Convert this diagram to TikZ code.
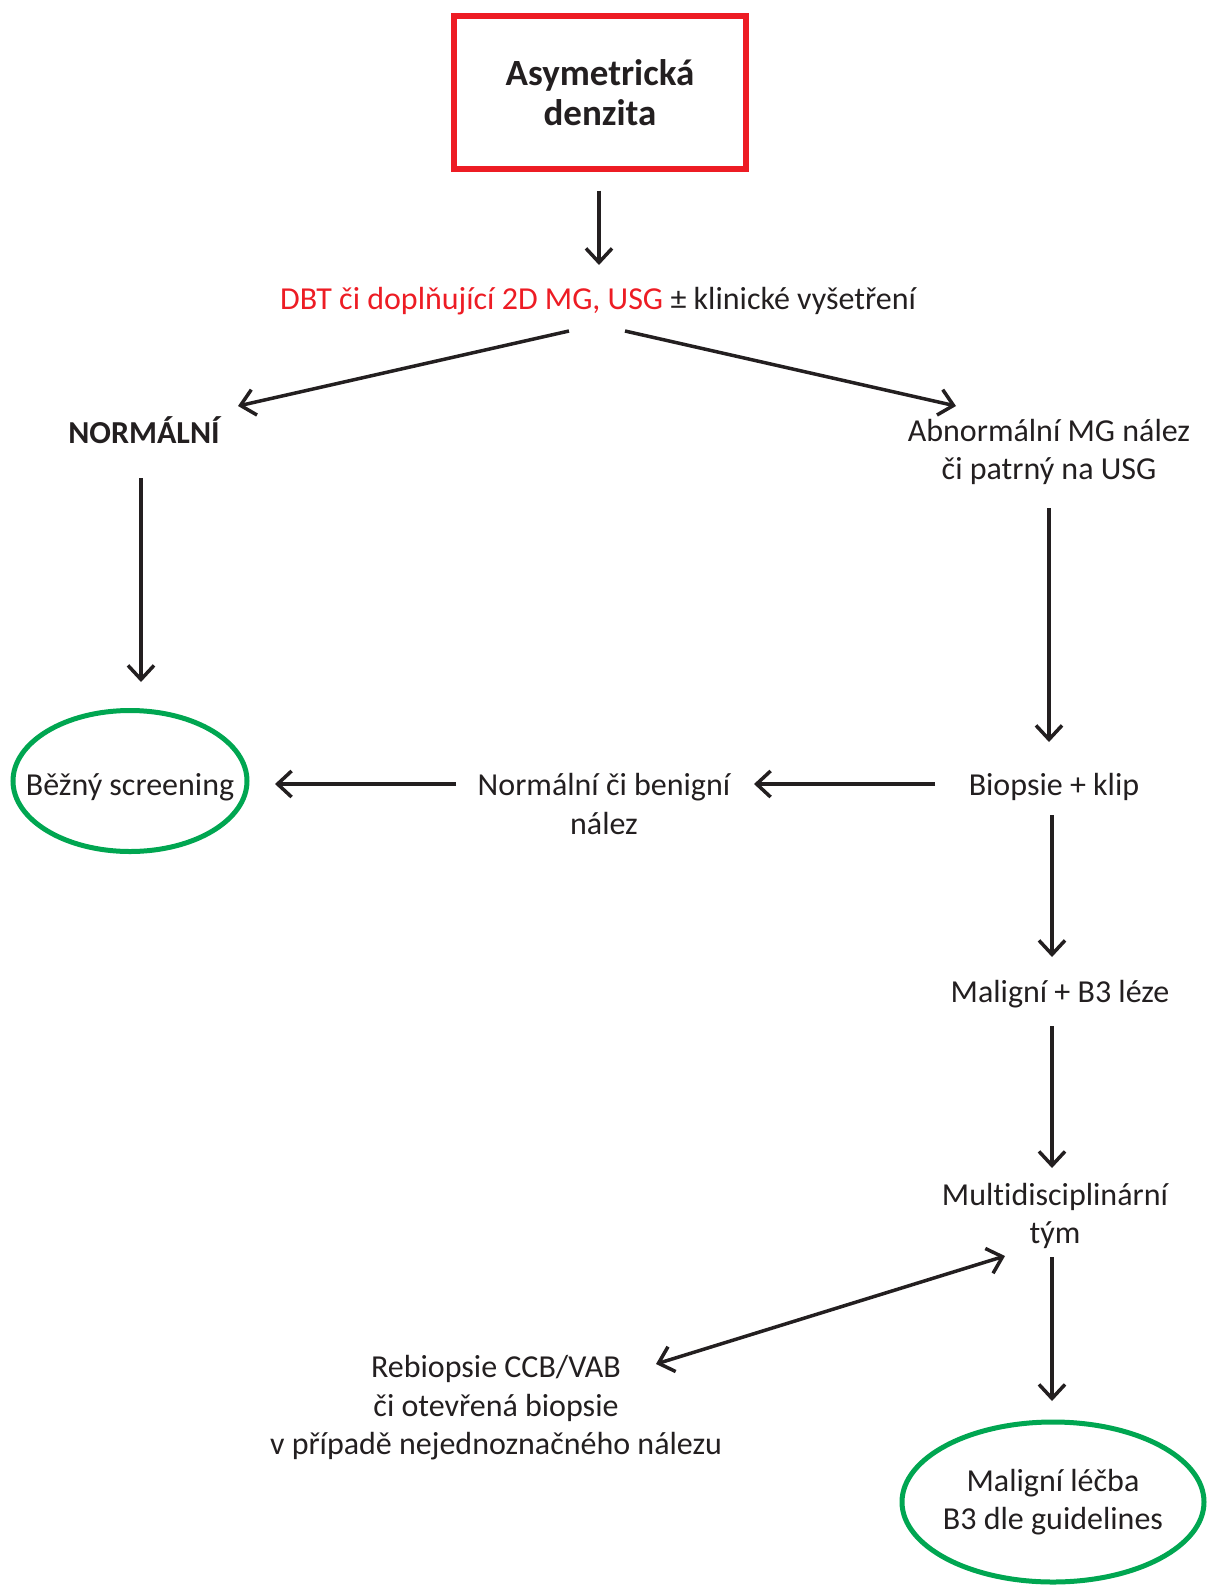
\documentclass[tikz,border=0pt]{standalone}
\usepackage{fontspec}
\setmainfont{Carlito}[RawFeature={-liga;-clig;-calt;-dlig}]
\usepackage{xcolor}
\usepackage{tikz}
\usetikzlibrary{positioning,arrows.meta,shapes.geometric}

\definecolor{ink}{HTML}{231F20}
\definecolor{alarm}{HTML}{ED1C24}
\definecolor{okgreen}{HTML}{00A651}
\newcommand{\txtsize}{\fontsize{32}{38.5}\selectfont}
\newcommand{\headsize}{\fontsize{37}{40.5}\selectfont\bfseries}

\begin{document}
\begin{tikzpicture}[x=1pt,y=-1pt,
		txt/.style={font=\txtsize, text=ink, align=center, inner sep=0pt},
		arr/.style={-{Straight Barb[length=14pt,width=26pt]}, line width=3.5pt, draw=ink},
		darr/.style={{Straight Barb[length=14pt,width=26pt]}-{Straight Barb[length=14pt,width=26pt]}, line width=3.5pt, draw=ink},
		oval/.style={ellipse, draw=okgreen, line width=5pt, inner sep=0pt}]
	\useasboundingbox (0,0) rectangle (1207,1587);

	\node[draw=alarm, line width=6.5pt, minimum width=292pt, minimum height=153pt, font=\headsize, text=ink, align=center](asym) at (600,92.5){Asymetrická\\denzita};
	\node[txt](dbt) at (598,301){\textcolor{alarm}{DBT či doplňující 2D MG, USG} ± klinické vyšetření};
	\node[txt, font=\txtsize\bfseries](norm) at (144,430){NORMÁLNÍ};
	\node[txt](abn) at (1049,452){Abnormální MG nález\\či patrný na USG};
	\node[oval, minimum width=234pt, minimum height=141pt, label={[txt,yshift=-6pt]center:Běžný screening}](bezny) at (130,781){};
	\node[txt](normben) at (604,804){Normální či benigní\\nález};
	\node[txt](biop) at (1054,787){Biopsie + klip};
	\node[txt](malig) at (1060,994){Maligní + B3 léze};
	\node[txt](multi) at (1055,1216){Multidisciplinární\\tým};
	\node[txt](rebiop) at (496,1408){Rebiopsie CCB/VAB\\či otevřená biopsie\\v případě nejednoznačného nálezu};
	\node[oval, minimum width=302pt, minimum height=160pt, label={[txt]center:Maligní léčba\\B3 dle guidelines}](lecba) at (1053,1502){};

	\draw[arr] ([shift={(-1,98)}]asym.center) -- ([shift={(1,-36)}]dbt.center);
	\draw[arr] ([shift={(-29,30)}]dbt.center) -- ([shift={(94,-24)}]norm.center);
	\draw[arr] ([shift={(27,30)}]dbt.center) -- ([shift={(-93,-46)}]abn.center);
	\draw[arr] ([shift={(-3,48)}]norm.center) -- ([shift={(11,-99)}]bezny.center);
	\draw[arr] ([shift={(0,56)}]abn.center) -- ([shift={(-5,-45)}]biop.center);
	\draw[arr] ([shift={(-119,-3)}]biop.center) -- ([shift={(150,-20)}]normben.center);
	\draw[arr] ([shift={(-148,-20)}]normben.center) -- ([shift={(145,3)}]bezny.center);
	\draw[arr] ([shift={(-2,28)}]biop.center) -- ([shift={(-8,-37)}]malig.center);
	\draw[arr] ([shift={(-8,32)}]malig.center) -- ([shift={(-3,-48)}]multi.center);
	\draw[arr] ([shift={(-3,41)}]multi.center) -- ([shift={(-1,-101)}]lecba.center);
	\draw[darr] ([shift={(160,-44)}]rebiop.center) -- ([shift={(-50,40)}]multi.center);
\end{tikzpicture}
\end{document}
